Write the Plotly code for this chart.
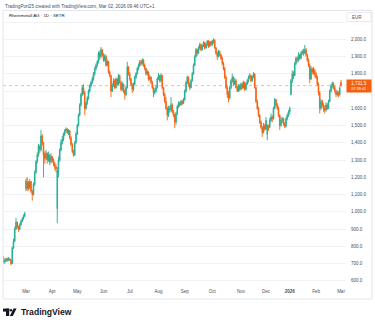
import pandas as pd
import plotly.graph_objects as go

# Rheinmetall AG, XETR, daily candles: closes / highs / lows per month
feb25_c = [710, 715, 728, 720, 728, 722, 700, 790, 830, 900, 940, 915, 900, 925, 945, 960, 975, 990]
feb25_h = [745, 728, 735, 735, 738, 732, 725, 800, 845, 915, 965, 945, 920, 935, 955, 970, 985, 1000]
feb25_l = [700, 700, 708, 712, 715, 715, 690, 698, 785, 825, 895, 905, 885, 895, 920, 940, 955, 970]

mar25_c = [1135, 1170, 1140, 1175, 1120, 1100, 1160, 1230, 1290, 1330, 1380, 1360, 1440, 1400, 1330, 1310, 1340, 1300, 1330, 1290, 1320]
mar25_h = [1195, 1200, 1180, 1190, 1180, 1130, 1170, 1240, 1300, 1345, 1395, 1390, 1475, 1450, 1405, 1350, 1360, 1345, 1350, 1335, 1340]
mar25_l = [1120, 1120, 1125, 1130, 1110, 1065, 1095, 1150, 1220, 1280, 1320, 1340, 1350, 1385, 1200, 1280, 1300, 1280, 1290, 1270, 1280]

apr25_c = [1300, 1280, 1260, 1250, 1240, 1300, 1360, 1400, 1420, 1450, 1470, 1480, 1460, 1470, 1430, 1390, 1350, 1330, 1400, 1450]
apr25_h = [1325, 1310, 1290, 1275, 1260, 1320, 1370, 1420, 1440, 1460, 1480, 1490, 1485, 1480, 1475, 1440, 1400, 1360, 1410, 1465]
apr25_l = [1285, 1265, 1240, 1230, 935, 1200, 1290, 1350, 1390, 1410, 1440, 1460, 1450, 1445, 1420, 1380, 1340, 1320, 1325, 1395]

may25_c = [1500, 1560, 1620, 1680, 1720, 1690, 1600, 1630, 1660, 1700, 1730, 1750, 1770, 1800, 1830, 1850, 1870, 1920, 1900, 1940, 1910]
may25_h = [1510, 1570, 1630, 1690, 1735, 1740, 1700, 1640, 1670, 1710, 1740, 1760, 1785, 1810, 1840, 1860, 1880, 1930, 1935, 1955, 1945]
may25_l = [1445, 1495, 1555, 1610, 1670, 1680, 1560, 1590, 1620, 1650, 1690, 1720, 1740, 1760, 1790, 1820, 1840, 1860, 1880, 1890, 1900]

jun25_c = [1880, 1900, 1850, 1870, 1810, 1790, 1700, 1730, 1760, 1720, 1770, 1740, 1790, 1750, 1710, 1740, 1700, 1680, 1720, 1840, 1800]
jun25_h = [1920, 1915, 1910, 1885, 1875, 1820, 1795, 1745, 1775, 1770, 1780, 1775, 1800, 1795, 1760, 1755, 1745, 1710, 1730, 1870, 1845]
jun25_l = [1870, 1870, 1840, 1845, 1800, 1780, 1665, 1695, 1725, 1710, 1715, 1730, 1735, 1740, 1700, 1700, 1690, 1650, 1670, 1715, 1790]

jul25_c = [1770, 1740, 1710, 1740, 1780, 1800, 1830, 1850, 1870, 1860, 1880, 1850, 1830, 1800, 1810, 1770, 1780, 1750, 1720, 1690, 1700, 1720, 1770]
jul25_h = [1810, 1775, 1745, 1750, 1790, 1810, 1840, 1860, 1880, 1880, 1890, 1885, 1860, 1835, 1825, 1815, 1795, 1785, 1760, 1725, 1715, 1735, 1780]
jul25_l = [1760, 1730, 1690, 1700, 1735, 1770, 1795, 1820, 1840, 1845, 1850, 1840, 1820, 1790, 1790, 1760, 1760, 1740, 1710, 1665, 1680, 1690, 1715]

aug25_c = [1790, 1760, 1790, 1720, 1680, 1640, 1600, 1560, 1600, 1590, 1620, 1580, 1560, 1520, 1570, 1610, 1630, 1620, 1640, 1630, 1650]
aug25_h = [1805, 1795, 1805, 1795, 1725, 1690, 1665, 1610, 1615, 1615, 1665, 1630, 1590, 1570, 1580, 1620, 1640, 1640, 1650, 1650, 1660]
aug25_l = [1765, 1750, 1750, 1710, 1670, 1630, 1590, 1530, 1550, 1575, 1580, 1570, 1550, 1485, 1505, 1560, 1600, 1610, 1615, 1620, 1625]

sep25_c = [1700, 1750, 1780, 1740, 1720, 1760, 1800, 1850, 1900, 1940, 1920, 1950, 1970, 1940, 1960, 1980, 1950, 1970, 1990, 1960, 1985, 1970]
sep25_h = [1710, 1760, 1790, 1785, 1750, 1770, 1810, 1860, 1910, 1950, 1945, 1960, 1980, 1975, 1970, 1990, 1985, 1980, 1995, 1995, 1990, 1990]
sep25_l = [1645, 1690, 1740, 1725, 1705, 1715, 1755, 1795, 1845, 1895, 1905, 1915, 1940, 1930, 1935, 1955, 1940, 1945, 1960, 1950, 1955, 1960]

oct25_c = [1990, 1995, 1950, 1920, 1900, 1930, 1910, 1890, 1860, 1830, 1780, 1720, 1680, 1660, 1720, 1760, 1780, 1740, 1760, 1720, 1700, 1730, 1710]
oct25_h = [1995, 2005, 2000, 1955, 1930, 1940, 1935, 1915, 1900, 1870, 1840, 1790, 1730, 1700, 1730, 1770, 1800, 1785, 1775, 1770, 1730, 1740, 1740]
oct25_l = [1960, 1975, 1945, 1910, 1880, 1895, 1900, 1880, 1850, 1820, 1770, 1710, 1660, 1635, 1650, 1710, 1750, 1730, 1735, 1715, 1695, 1695, 1700]

nov25_c = [1740, 1720, 1750, 1710, 1740, 1760, 1780, 1790, 1760, 1780, 1800, 1720, 1640, 1600, 1560, 1520, 1490, 1460, 1500, 1480]
nov25_h = [1750, 1750, 1760, 1755, 1750, 1770, 1790, 1805, 1795, 1790, 1810, 1800, 1725, 1650, 1610, 1565, 1530, 1495, 1515, 1510]
nov25_l = [1705, 1710, 1715, 1700, 1705, 1735, 1750, 1770, 1750, 1755, 1775, 1715, 1630, 1590, 1550, 1510, 1480, 1435, 1455, 1470]

dec25_c = [1530, 1500, 1490, 1530, 1550, 1540, 1600, 1650, 1620, 1600, 1560, 1500, 1530, 1540, 1510, 1495, 1540, 1560, 1580]
dec25_h = [1550, 1510, 1505, 1545, 1570, 1560, 1610, 1660, 1655, 1630, 1610, 1565, 1550, 1550, 1545, 1520, 1550, 1570, 1590]
dec25_l = [1475, 1415, 1470, 1485, 1520, 1520, 1535, 1595, 1610, 1590, 1550, 1475, 1495, 1515, 1500, 1485, 1490, 1530, 1550]

jan26_c = [1600, 1760, 1800, 1790, 1860, 1890, 1880, 1910, 1890, 1920, 1930, 1920, 1940, 1910, 1880, 1850, 1770, 1830, 1810, 1820, 1800]
jan26_h = [1610, 1770, 1820, 1815, 1870, 1900, 1900, 1925, 1915, 1930, 1940, 1945, 1967, 1950, 1915, 1890, 1860, 1845, 1835, 1840, 1830]
jan26_l = [1565, 1675, 1745, 1770, 1785, 1850, 1865, 1870, 1880, 1885, 1910, 1905, 1915, 1900, 1870, 1840, 1745, 1765, 1795, 1795, 1780]

feb26_c = [1780, 1740, 1690, 1600, 1640, 1620, 1600, 1590, 1620, 1600, 1640, 1700, 1730, 1745, 1720, 1700, 1680, 1690, 1680, 1720]
feb26_h = [1810, 1790, 1750, 1700, 1655, 1650, 1630, 1615, 1635, 1630, 1650, 1710, 1740, 1755, 1750, 1730, 1710, 1705, 1700, 1725]
feb26_l = [1770, 1730, 1675, 1570, 1590, 1605, 1580, 1570, 1580, 1590, 1595, 1635, 1690, 1715, 1710, 1690, 1665, 1670, 1665, 1670]

mar26_c = [1731.5]
mar26_h = [1765]
mar26_l = [1725]

first_open = 735
# opening gaps (bar index -> open price)
gap_opens = {18: 1180, 43: 1020, 211: 1450, 230: 1680, 270: 1750}

last_price = 1731.5
price_ticks = [600, 700, 800, 900, 1000, 1100, 1200, 1300, 1400, 1500,
               1600, 1700, 1800, 1900, 2000, 2100]
# levels whose scale label sits under the price tag or above the top label
unlabelled = {1700, 2100}

months_c = [feb25_c, mar25_c, apr25_c, may25_c, jun25_c, jul25_c, aug25_c,
            sep25_c, oct25_c, nov25_c, dec25_c, jan26_c, feb26_c, mar26_c]
months_h = [feb25_h, mar25_h, apr25_h, may25_h, jun25_h, jul25_h, aug25_h,
            sep25_h, oct25_h, nov25_h, dec25_h, jan26_h, feb26_h, mar26_h]
months_l = [feb25_l, mar25_l, apr25_l, may25_l, jun25_l, jul25_l, aug25_l,
            sep25_l, oct25_l, nov25_l, dec25_l, jan26_l, feb26_l, mar26_l]

closes = [v for m in months_c for v in m]
highs = [v for m in months_h for v in m]
lows = [v for m in months_l for v in m]

opens = [first_open] + closes[:-1]
for k, v in gap_opens.items():
    opens[k] = v
highs = [max(h, o, c) for h, o, c in zip(highs, opens, closes)]
lows = [min(l, o, c) for l, o, c in zip(lows, opens, closes)]

# XETR trading calendar
holidays = pd.to_datetime(["2025-04-18", "2025-04-21", "2025-05-01", "2025-12-24",
                           "2025-12-25", "2025-12-26", "2025-12-31", "2026-01-01"])
days = pd.bdate_range("2025-02-05", "2026-03-02")
days = days[~days.isin(holidays)]
assert len(days) == len(closes)

idx = list(range(len(closes)))

# month tick marks at the first session of each month
tickvals, ticktext = [], []
for i in range(1, len(days)):
    if days[i].month != days[i - 1].month:
        tickvals.append(i)
        if days[i].month == 1:
            ticktext.append(f"<b>{days[i].year}</b>")
        else:
            ticktext.append(days[i].strftime("%b"))

UP = "#22ad92"
DOWN = "#f5600f"
FONT = "Liberation Sans"

W, H = 375, 323
L, R, T, B = 3, 29, 10, 36
plot_w = W - L - R
plot_h = H - T - B


def px_x(px):
    return (px - L) / plot_w


def px_y(py):
    return (H - B - py) / plot_h


fig = go.Figure()
fig.add_trace(go.Candlestick(
    x=idx, open=opens, high=highs, low=lows, close=closes,
    increasing=dict(line=dict(color=UP, width=0.9), fillcolor=UP),
    decreasing=dict(line=dict(color=DOWN, width=0.9), fillcolor=DOWN),
    whiskerwidth=0, hoverinfo="skip", showlegend=False,
))

fig.update_layout(
    width=W, height=H,
    margin=dict(l=L, r=R, t=T, b=B),
    paper_bgcolor="white", plot_bgcolor="white",
    font=dict(family=FONT, size=4.5, color="#4a4e59"),
    showlegend=False,
    xaxis=dict(
        range=[-0.4, plot_w / 1.25 - 0.4],
        tickvals=tickvals, ticktext=ticktext,
        showgrid=False, zeroline=False, showline=False,
        ticks="", tickfont=dict(size=4.5, color="#4a4e59"),
        rangeslider=dict(visible=False), fixedrange=True,
    ),
    yaxis=dict(
        range=[564.8, 2169.8],
        side="right",
        tickvals=price_ticks,
        ticktext=["" if v in unlabelled else f"{v:,.1f}" for v in price_ticks],
        showgrid=True, gridcolor="#f0f2f5", gridwidth=1,
        zeroline=False, showline=False, ticks="",
        tickfont=dict(size=4.5, color="#4a4e59"),
        ticklabelstandoff=4,
    ),
)

# last-price line
fig.add_shape(type="line", xref="paper", yref="y", x0=0, x1=1,
              y0=last_price, y1=last_price,
              line=dict(color="rgba(245,96,15,0.45)", width=1, dash="dot"))

# chart frame
fig.add_shape(type="rect", xref="paper", yref="paper",
              x0=px_x(3), x1=px_x(372), y0=px_y(299), y1=px_y(10.5),
              line=dict(color="#e3e5ea", width=1), fillcolor="rgba(0,0,0,0)",
              layer="above")

# currency box
fig.add_shape(type="rect", xref="paper", yref="paper",
              x0=px_x(347), x1=px_x(371), y0=px_y(21.5), y1=px_y(12.5),
              line=dict(color="#e3e5ea", width=0.8), fillcolor="white",
              layer="above")
fig.add_annotation(xref="paper", yref="paper", x=px_x(350), y=px_y(17),
                   text="EUR", showarrow=False, xanchor="left", yanchor="middle",
                   font=dict(size=4.5, color="#4a4e59"))

# last-price tag
fig.add_annotation(xref="paper", yref="y", x=1, y=last_price,
                   xanchor="left", yanchor="middle", xshift=0,
                   text=f"{last_price:,.1f}<br><span style='font-size:3.8px'>07:38:41</span>",
                   showarrow=False, bgcolor=DOWN, borderpad=0.5,
                   width=23, height=11, align="center",
                   font=dict(size=4.5, color="white"))

# header lines
fig.add_annotation(xref="paper", yref="paper", x=px_x(3), y=px_y(6),
                   text="TradingPort25 created with TradingView.com, Mar 02, 2026 09:46 UTC+1",
                   showarrow=False, xanchor="left", yanchor="middle",
                   font=dict(size=4.6, color="#4a4e59"))
fig.add_annotation(xref="paper", yref="paper", x=px_x(6.5), y=px_y(16),
                   text="Rheinmetall AG · 1D · XETR",
                   showarrow=False, xanchor="left", yanchor="middle",
                   font=dict(size=4.4, color="#131722"))

# TradingView logo mark
DARK = "#131722"
fig.add_shape(type="rect", xref="paper", yref="paper",
              x0=px_x(3), x1=px_x(9.2), y0=px_y(311.6), y1=px_y(308.6),
              line=dict(width=0), fillcolor=DARK, layer="above")
fig.add_shape(type="rect", xref="paper", yref="paper",
              x0=px_x(6), x1=px_x(9.2), y0=px_y(316), y1=px_y(308.6),
              line=dict(width=0), fillcolor=DARK, layer="above")
fig.add_shape(type="circle", xref="paper", yref="paper",
              x0=px_x(9.8), x1=px_x(12.2), y0=px_y(311.4), y1=px_y(309),
              line=dict(width=0), fillcolor=DARK, layer="above")
fig.add_shape(type="path", xref="paper", yref="paper",
              path=(f"M {px_x(13.6)},{px_y(308.6)} L {px_x(16.6)},{px_y(308.6)} "
                    f"L {px_x(12.8)},{px_y(316)} L {px_x(9.8)},{px_y(316)} Z"),
              line=dict(width=0), fillcolor=DARK, layer="above")
fig.add_annotation(xref="paper", yref="paper", x=px_x(18.5), y=px_y(312.3),
                   text="<b>TradingView</b>", showarrow=False,
                   xanchor="left", yanchor="middle",
                   font=dict(size=8.6, color=DARK, family=FONT))

fig.write_html("out.html")
